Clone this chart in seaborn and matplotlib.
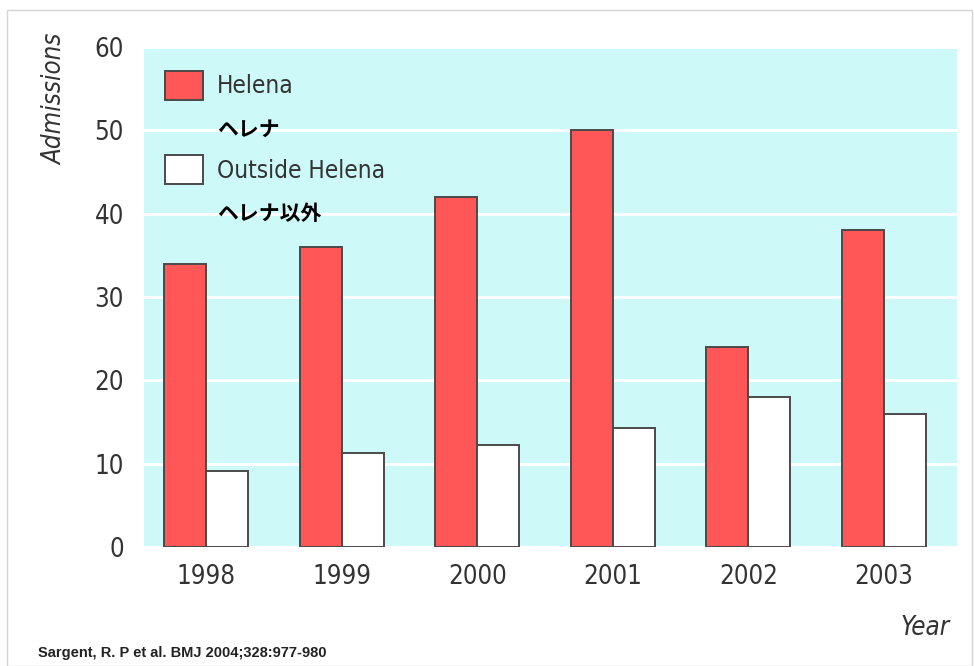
import pandas as pd
import seaborn as sns
import matplotlib.pyplot as plt
from matplotlib import font_manager
from matplotlib.patches import Patch, Rectangle

years = ["1998", "1999", "2000", "2001", "2002", "2003"]
helena = [34, 36, 42, 50, 24, 38]
outside = [9.1, 11.3, 12.3, 14.3, 18, 16]
series = ["Helena", "Outside Helena"]

df = pd.DataFrame({
    "Year": years * 2,
    "Admissions": helena + outside,
    "Series": [series[0]] * len(years) + [series[1]] * len(years),
})

sns.set_style("white")

# condensed face if the system has one, else plain Liberation Sans
cond = font_manager.findfont(font_manager.FontProperties(family="DejaVu Sans", stretch="condensed"))
if "Condensed" in cond:
    plt.rcParams["font.family"] = ["DejaVu Sans"]
    plt.rcParams["font.stretch"] = "condensed"
else:
    plt.rcParams["font.family"] = ["Liberation Sans", "DejaVu Sans"]

red = "#ff5757"
bg = "#cdf9f9"

fig = plt.figure(figsize=(9.74, 6.66), dpi=100)
ax = fig.add_axes([143.5 / 974, 119 / 666, 813.5 / 974, 500 / 666])
ax.set_facecolor(bg)

sns.barplot(data=df, x="Year", y="Admissions", hue="Series",
            palette={series[0]: red, series[1]: "white"}, saturation=1,
            width=0.62, edgecolor="#4a4a4a", linewidth=1.4,
            legend=False, ax=ax, zorder=3)

ax.set_ylim(0, 60)
ax.set_xlim(-0.465, 5.54)
ax.set_yticks(range(0, 61, 10))
ax.yaxis.grid(True, color="white", linewidth=2.2, zorder=1)
ax.xaxis.grid(False)
ax.set_axisbelow(True)
for s in ax.spines.values():
    s.set_visible(False)
ax.tick_params(axis="both", length=0, labelsize=18.5, colors="#333333")
ax.tick_params(axis="y", pad=14)
ax.tick_params(axis="x", pad=12)
ax.set_xlabel("")
ax.set_ylabel("")

fig.text(55 / 974, 1 - 99 / 666, "Admissions", rotation=90, ha="center",
         va="center", fontsize=18.5, style="italic", color="#333333")
fig.text(925 / 974, 1 - 628 / 666, "Year", ha="center", va="center",
         fontsize=18.5, style="italic", color="#333333")
fig.text(38 / 974, 1 - 653 / 666, "Sargent, R. P et al. BMJ 2004;328:977-980",
         ha="left", va="center", fontsize=10.5, fontweight="bold",
         family=["Liberation Sans", "DejaVu Sans"], stretch="normal",
         color="#222222")

handles = [
    Patch(facecolor=red, edgecolor="#4a4a4a", linewidth=1.4),
    Patch(facecolor="none", edgecolor="none"),
    Patch(facecolor="white", edgecolor="#4a4a4a", linewidth=1.4),
    Patch(facecolor="none", edgecolor="none"),
]
labels = ["Helena", "ヘレナ", "Outside Helena", "ヘレナ以外"]
leg = ax.legend(handles, labels, loc="upper left",
                bbox_to_anchor=((165 - 143.5) / 813.5, (547 - 71) / 500),
                frameon=False, fontsize=17.5, handlelength=1.55,
                handleheight=1.45, handletextpad=0.6, labelspacing=0.55,
                borderpad=0, borderaxespad=0)
for i, t in enumerate(leg.get_texts()):
    if i % 2 == 1:
        t.set_family(["Noto Sans CJK JP", "DejaVu Sans"])
        t.set_stretch("normal")
        t.set_fontsize(15)
        t.set_fontweight("bold")
        t.set_color("black")
    else:
        t.set_color("#333333")

fig.patches.append(Rectangle((7 / 974, 0), 965 / 974, 1 - 10 / 666,
                             transform=fig.transFigure, fill=False,
                             edgecolor="#d4d4d4", linewidth=1))

fig.savefig("out.png", dpi=100)
